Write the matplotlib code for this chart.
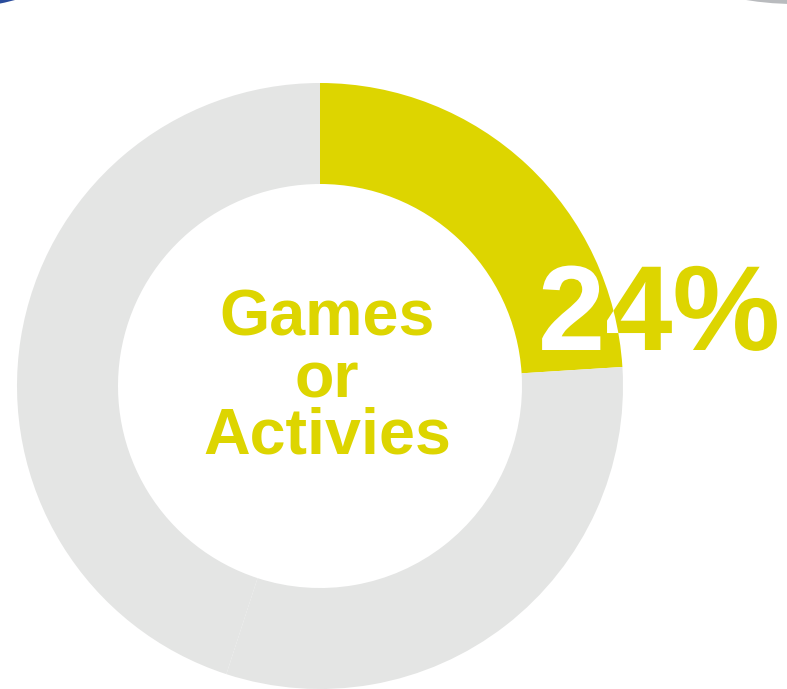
import matplotlib.pyplot as plt
from matplotlib.patches import Circle, PathPatch
from matplotlib.textpath import TextPath
from matplotlib.font_manager import FontProperties
from matplotlib.transforms import Affine2D

# data
labels = ["Games or Activies", "Other A", "Other B"]
shares = [24, 31, 45]
colors = ["#DDD500", "#E4E5E4", "#E4E5E4"]
pct_label = "24%"
center_lines = ["Games", "or", "Activies"]

W, H = 787, 689
fig = plt.figure(figsize=(W / 100, H / 100), dpi=100)
ax = fig.add_axes([0, 0, 1, 1])

wedges, _ = ax.pie(shares, colors=colors, startangle=90, counterclock=False,
                   center=(320, H - 386), radius=303,
                   wedgeprops=dict(width=101, edgecolor="none", linewidth=0))

# pieces of neighbouring rings at the top corners
ax.add_patch(Circle((-62, H + 293), 303, color="#2A4C9C", lw=0))
ax.add_patch(Circle((795, H + 299), 303, color="#B9BBBE", lw=0))

ax.set_xlim(0, W)
ax.set_ylim(0, H)
ax.set_aspect("equal")
ax.set_axis_off()

font = ["Liberation Sans", "DejaVu Sans"]
yellow = colors[0]

# center label
baselines = [335, 398, 454]
for line, yb in zip(center_lines, baselines):
    ax.text(327, H - yb, line, ha="center", va="baseline", fontsize=46.5,
            fontweight="bold", color=yellow, family=font)

# big percentage: yellow on white, white where it sits on the yellow wedge
fp = FontProperties(family="Liberation Sans", weight="bold")
tp = TextPath((0, 0), pct_label, size=121, prop=fp)
bb = tp.get_extents()
tr = Affine2D().translate(659.5 - (bb.x0 + bb.width / 2), H - 350) + ax.transData
ax.add_patch(PathPatch(tp, transform=tr, facecolor=yellow, lw=0))
white = PathPatch(tp, transform=tr, facecolor="white", lw=0)
ax.add_patch(white)
white.set_clip_path(wedges[0])

fig.savefig("out.png", dpi=100)
